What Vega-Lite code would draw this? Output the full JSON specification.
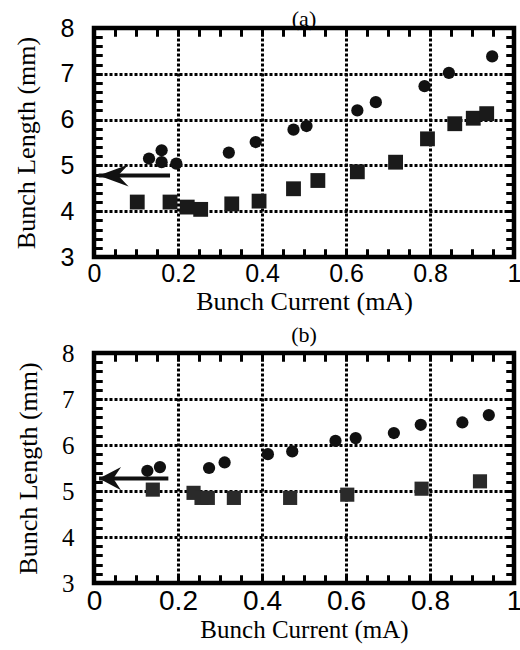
{
  "$schema": "https://vega.github.io/schema/vega-lite/v6.json",
  "padding": {"left": 10, "top": 5, "right": 0, "bottom": 0},
  "spacing": 4,
  "config": {
    "view": {"stroke": "black", "strokeWidth": 4.5},
    "axis": {"domain": false, "ticks": false, "gridColor": "black", "gridWidth": 3, "gridDash": [3, 2], "labelColor": "black", "titleColor": "black", "titleFontWeight": "normal", "labelFlush": false, "labelOverlap": false},
    "title": {"font": "Liberation Serif", "fontSize": 22, "fontWeight": "normal", "color": "black"}
  },
  "datasets": {
    "a_circ": [
      {"x": 0.131, "y": 5.15}, {"x": 0.161, "y": 5.33}, {"x": 0.161, "y": 5.07}, {"x": 0.196, "y": 5.04},
      {"x": 0.321, "y": 5.28}, {"x": 0.385, "y": 5.51}, {"x": 0.475, "y": 5.78}, {"x": 0.506, "y": 5.86},
      {"x": 0.627, "y": 6.2}, {"x": 0.671, "y": 6.38}, {"x": 0.787, "y": 6.73}, {"x": 0.845, "y": 7.02},
      {"x": 0.948, "y": 7.38}
    ],
    "a_sq": [
      {"x": 0.103, "y": 4.2}, {"x": 0.181, "y": 4.2}, {"x": 0.222, "y": 4.09}, {"x": 0.254, "y": 4.04},
      {"x": 0.328, "y": 4.16}, {"x": 0.393, "y": 4.22}, {"x": 0.475, "y": 4.49}, {"x": 0.533, "y": 4.67},
      {"x": 0.627, "y": 4.86}, {"x": 0.718, "y": 5.07}, {"x": 0.794, "y": 5.58}, {"x": 0.859, "y": 5.91},
      {"x": 0.903, "y": 6.03}, {"x": 0.935, "y": 6.13}
    ],
    "a_arrow": [{"x1": 0.011, "x2": 0.181, "y": 4.78}],
    "b_circ": [
      {"x": 0.127, "y": 5.44}, {"x": 0.157, "y": 5.52}, {"x": 0.274, "y": 5.5}, {"x": 0.311, "y": 5.62},
      {"x": 0.414, "y": 5.8}, {"x": 0.472, "y": 5.86}, {"x": 0.575, "y": 6.09}, {"x": 0.623, "y": 6.15},
      {"x": 0.714, "y": 6.26}, {"x": 0.778, "y": 6.44}, {"x": 0.877, "y": 6.49}, {"x": 0.94, "y": 6.65}
    ],
    "b_sq": [
      {"x": 0.14, "y": 5.03}, {"x": 0.237, "y": 4.96}, {"x": 0.256, "y": 4.85}, {"x": 0.271, "y": 4.85},
      {"x": 0.333, "y": 4.85}, {"x": 0.467, "y": 4.85}, {"x": 0.603, "y": 4.92}, {"x": 0.78, "y": 5.05},
      {"x": 0.919, "y": 5.21}
    ],
    "b_arrow": [{"x1": 0.012, "x2": 0.177, "y": 5.27}]
  },
  "vconcat": [
    {
      "width": 420, "height": 229,
      "title": {"text": "(a)", "offset": -15},
      "layer": [
        {
          "data": {"name": "a_circ"},
          "mark": {"type": "point", "shape": "circle", "filled": true, "size": 150, "color": "#111", "opacity": 1},
          "encoding": {
            "x": {"field": "x", "type": "quantitative", "scale": {"domain": [0, 1], "nice": false, "zero": false},
              "axis": {"orient": "bottom", "values": [0,0.05,0.1,0.15,0.2,0.25,0.3,0.35,0.4,0.45,0.5,0.55,0.6,0.65,0.7,0.75,0.8,0.85,0.9,0.95,1],
                "labelExpr": "abs(datum.value*5 - round(datum.value*5)) < 0.001 ? format(datum.value, '~g') : ''",
                "grid": true, "gridWidth": 3, "labelOverlap": false,
                "gridOpacity": {"condition": {"test": "datum.value > 0.01 && datum.value < 0.99", "value": 1}, "value": 0},
                "gridDash": {"condition": {"test": "abs(datum.value*5 - round(datum.value*5)) < 0.001", "value": [3, 2]}, "value": [8, 213]},
                "labelPadding": 4, "labelFont": "Liberation Sans", "labelFontSize": 25,
                "title": "Bunch Current (mA)", "titleFont": "Liberation Serif", "titleFontSize": 26, "titlePadding": 2}},
            "y": {"field": "y", "type": "quantitative", "scale": {"domain": [3, 8], "nice": false, "zero": false},
              "axis": {"orient": "left", "values": [3,3.2,3.4,3.6,3.8,4,4.2,4.4,4.6,4.8,5,5.2,5.4,5.6,5.8,6,6.2,6.4,6.6,6.8,7,7.2,7.4,7.6,7.8,8],
                "labelExpr": "abs(datum.value - round(datum.value)) < 0.001 ? format(datum.value, 'd') : ''",
                "grid": true, "gridWidth": 3, "labelOverlap": false,
                "gridOpacity": {"condition": {"test": "datum.value > 3.01 && datum.value < 7.99", "value": 1}, "value": 0},
                "gridDash": {"condition": {"test": "abs(datum.value - round(datum.value)) < 0.001", "value": [3, 2]}, "value": [8, 404]},
                "labelPadding": 20, "labelFont": "Liberation Sans", "labelFontSize": 25,
                "title": "Bunch Length (mm)", "titleFont": "Liberation Serif", "titleFontSize": 26, "titlePadding": 21}}
          }
        },
        {
          "data": {"name": "a_sq"},
          "mark": {"type": "square", "filled": true, "size": 220, "color": "#1a1a1a", "opacity": 1},
          "encoding": {
            "x": {"field": "x", "type": "quantitative", "scale": {"domain": [0, 1], "nice": false, "zero": false},
              "axis": {"orient": "top", "values": [0,0.05,0.1,0.15,0.2,0.25,0.3,0.35,0.4,0.45,0.5,0.55,0.6,0.65,0.7,0.75,0.8,0.85,0.9,0.95,1],
                "labels": false, "grid": true, "gridDash": [8, 213], "gridWidth": 3, "title": null}},
            "y": {"field": "y", "type": "quantitative", "scale": {"domain": [3, 8], "nice": false, "zero": false},
              "axis": {"orient": "right", "values": [3,3.2,3.4,3.6,3.8,4,4.2,4.4,4.6,4.8,5,5.2,5.4,5.6,5.8,6,6.2,6.4,6.6,6.8,7,7.2,7.4,7.6,7.8,8],
                "labels": false, "grid": true, "gridDash": [8, 404], "gridWidth": 3, "title": null}}
          }
        },
        {
          "data": {"name": "a_arrow"},
          "mark": {"type": "rule", "strokeWidth": 4, "color": "#111"},
          "encoding": {
            "x": {"field": "x1", "type": "quantitative", "axis": null},
            "x2": {"field": "x2"},
            "y": {"field": "y", "type": "quantitative", "axis": null}
          }
        },
        {
          "data": {"name": "a_arrow"},
          "mark": {"type": "point", "shape": "M0,0L2,-0.73L1.3,0L2,0.73Z", "filled": true, "size": 900, "color": "#111", "opacity": 1},
          "encoding": {
            "x": {"field": "x1", "type": "quantitative", "axis": null},
            "y": {"field": "y", "type": "quantitative", "axis": null}
          }
        }
      ],
      "resolve": {"axis": {"x": "independent", "y": "independent"}}
    },
    {
      "width": 420, "height": 230,
      "title": {"text": "(b)", "offset": -6},
      "layer": [
        {
          "data": {"name": "b_circ"},
          "mark": {"type": "point", "shape": "circle", "filled": true, "size": 150, "color": "#111", "opacity": 1},
          "encoding": {
            "x": {"field": "x", "type": "quantitative", "scale": {"domain": [0, 1], "nice": false, "zero": false},
              "axis": {"orient": "bottom", "values": [0,0.05,0.1,0.15,0.2,0.25,0.3,0.35,0.4,0.45,0.5,0.55,0.6,0.65,0.7,0.75,0.8,0.85,0.9,0.95,1],
                "labelExpr": "abs(datum.value*5 - round(datum.value*5)) < 0.001 ? format(datum.value, '~g') : ''",
                "grid": true, "gridWidth": 3, "labelOverlap": false,
                "gridOpacity": {"condition": {"test": "datum.value > 0.01 && datum.value < 0.99", "value": 1}, "value": 0},
                "gridDash": {"condition": {"test": "abs(datum.value*5 - round(datum.value*5)) < 0.001", "value": [3, 2]}, "value": [8, 214]},
                "labelPadding": 4, "labelFont": "Liberation Sans", "labelFontSize": 28,
                "title": "Bunch Current (mA)", "titleFont": "Liberation Serif", "titleFontSize": 25, "titlePadding": 2}},
            "y": {"field": "y", "type": "quantitative", "scale": {"domain": [3, 8], "nice": false, "zero": false},
              "axis": {"orient": "left", "values": [3,3.2,3.4,3.6,3.8,4,4.2,4.4,4.6,4.8,5,5.2,5.4,5.6,5.8,6,6.2,6.4,6.6,6.8,7,7.2,7.4,7.6,7.8,8],
                "labelExpr": "abs(datum.value - round(datum.value)) < 0.001 ? format(datum.value, 'd') : ''",
                "grid": true, "gridWidth": 3, "labelOverlap": false,
                "gridOpacity": {"condition": {"test": "datum.value > 3.01 && datum.value < 7.99", "value": 1}, "value": 0},
                "gridDash": {"condition": {"test": "abs(datum.value - round(datum.value)) < 0.001", "value": [3, 2]}, "value": [8, 404]},
                "labelPadding": 20, "labelFont": "Liberation Serif", "labelFontSize": 25,
                "title": "Bunch Length (mm)", "titleFont": "Liberation Serif", "titleFontSize": 26, "titlePadding": 20}}
          }
        },
        {
          "data": {"name": "b_sq"},
          "mark": {"type": "square", "filled": true, "size": 200, "color": "#2a2a2a", "opacity": 1},
          "encoding": {
            "x": {"field": "x", "type": "quantitative", "scale": {"domain": [0, 1], "nice": false, "zero": false},
              "axis": {"orient": "top", "values": [0,0.05,0.1,0.15,0.2,0.25,0.3,0.35,0.4,0.45,0.5,0.55,0.6,0.65,0.7,0.75,0.8,0.85,0.9,0.95,1],
                "labels": false, "grid": true, "gridDash": [8, 214], "gridWidth": 3, "title": null}},
            "y": {"field": "y", "type": "quantitative", "scale": {"domain": [3, 8], "nice": false, "zero": false},
              "axis": {"orient": "right", "values": [3,3.2,3.4,3.6,3.8,4,4.2,4.4,4.6,4.8,5,5.2,5.4,5.6,5.8,6,6.2,6.4,6.6,6.8,7,7.2,7.4,7.6,7.8,8],
                "labels": false, "grid": true, "gridDash": [8, 404], "gridWidth": 3, "title": null}}
          }
        },
        {
          "data": {"name": "b_arrow"},
          "mark": {"type": "rule", "strokeWidth": 4, "color": "#111"},
          "encoding": {
            "x": {"field": "x1", "type": "quantitative", "axis": null},
            "x2": {"field": "x2"},
            "y": {"field": "y", "type": "quantitative", "axis": null}
          }
        },
        {
          "data": {"name": "b_arrow"},
          "mark": {"type": "point", "shape": "M0,0L2,-1.05L1.3,0L2,1.05Z", "filled": true, "size": 484, "color": "#111", "opacity": 1},
          "encoding": {
            "x": {"field": "x1", "type": "quantitative", "axis": null},
            "y": {"field": "y", "type": "quantitative", "axis": null}
          }
        }
      ],
      "resolve": {"axis": {"x": "independent", "y": "independent"}}
    }
  ]
}
